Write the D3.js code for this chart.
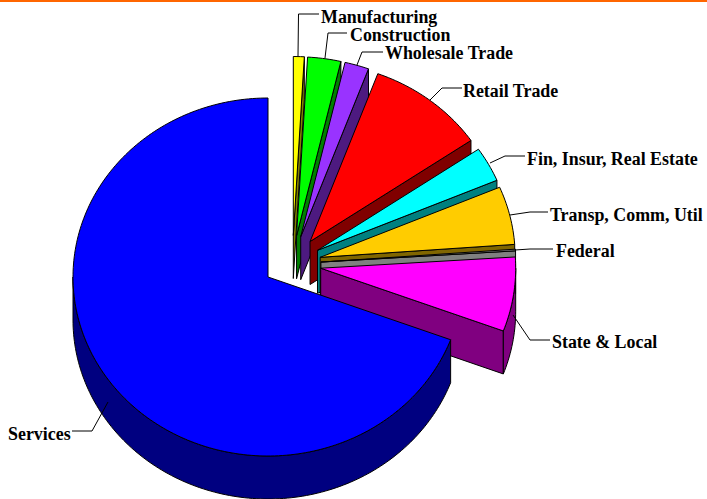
<!DOCTYPE html>
<html>
<head>
<meta charset="utf-8">
<script src="https://cdnjs.cloudflare.com/ajax/libs/d3/7.8.5/d3.min.js"></script>
<style>
    html, body { margin: 0; padding: 0; background: #fff; overflow: hidden; }
    svg { display: block; }
    text { font-family: "Liberation Serif", serif; font-weight: bold; font-size: 17.9px; fill: #000; }
</style>
</head>
<body>
<script>
//slices run clockwise from 12 o'clock, services last so it paints over the rest
var categories = ["Manufacturing", "Construction", "Wholesale Trade", "Retail Trade", "Fin, Insur, Real Estate", "Transp, Comm, Util", "Federal", "State & Local", "Services"];
var shares = [0.9, 2.75, 2.0, 9.8, 3.15, 5.25, 0.15, 6.7, 69.3];
var topColors = ["#ffff00", "#00ff00", "#9933ff", "#ff0000", "#00ffff", "#ffcc00", "#808080", "#ff00ff", "#0000ff"];
var sideColors = ["#808000", "#008000", "#4d1a80", "#800000", "#008080", "#806600", "#808080", "#800080", "#000080"];

//label position and leader elbow/end for each slice: [textX, baselineY, elbowX, elbowY, endX, endY, startX, startY]
var leaders = [
    [321, 23, 298.5, 14, 319, 14, 298, 56],
    [350, 41, 328, 33, 347, 33, 325, 58],
    [385, 59, 362, 52, 383, 52, 357, 65],
    [463, 97, 442, 88, 462, 88, 430, 100],
    [527, 165, 505, 156, 525, 156, 490, 163],
    [550, 221, 530, 212, 548, 212, 510, 215],
    [556, 257, 530, 249, 553, 249, 515, 250],
    [552, 348, 530, 340, 550, 340, 513, 315],
    [8, 440, 92, 431, 72, 431, 108, 402]
];

var width = 707,
    height = 499;

var cx = 268, cy = 277,   //centre of the unexploded pie
    rx = 195, ry = 179,   //tilted top face
    depth = 43;

var svg = d3.select("body")
    .append("svg")
    .attr("width", width)
    .attr("height", height);

//orange rule along the top
svg.append("rect")
    .attr("width", width)
    .attr("height", 2)
    .attr("fill", "#ff6600");

var pie = d3.pie().sort(null);
var arcs = pie(shares);

//centre of a slice: all but services are pulled out as a group, then along their own mid angle
function sliceCentre(d, i){
    if (i == categories.length - 1) return [cx, cy];
    var mid = (d.startAngle + d.endAngle) / 2;
    return [cx + 24.5 + 28.5 * Math.sin(mid), cy - 13 - 28.5 * Math.cos(mid)];
}

function rimPoints(c, a0, a1, dy){
    var n = Math.max(2, Math.ceil((a1 - a0) / 0.02));
    return d3.range(n + 1).map(function(k){
        var a = a0 + (a1 - a0) * k / n;
        return [c[0] + rx * Math.sin(a), c[1] - ry * Math.cos(a) + dy];
    });
}

var line = d3.line();

var slices = svg.selectAll("g.slice")
    .data(arcs)
    .enter()
    .append("g")
    .attr("class", "slice")
    .attr("stroke", "#000")
    .attr("stroke-width", 1)
    .attr("stroke-linejoin", "round");

slices.each(function(d, i){
    var g = d3.select(this),
        c = sliceCentre(d, i);

    //wall on the closing edge, not visible for services
    if (i < categories.length - 1){
        var e = [c[0] + rx * Math.sin(d.endAngle), c[1] - ry * Math.cos(d.endAngle)];
        g.append("path")
            .attr("d", line([c, e, [e[0], e[1] + depth], [c[0], c[1] + depth]]) + "Z")
            .attr("fill", sideColors[i]);
    }

    //outer rim only where it faces the viewer
    var a0 = Math.max(d.startAngle, Math.PI / 2),
        a1 = Math.min(d.endAngle, Math.PI * 1.5);
    if (a1 > a0){
        var upper = rimPoints(c, a0, a1, 0),
            lower = rimPoints(c, a0, a1, depth).reverse();
        g.append("path")
            .attr("d", line(upper.concat(lower)) + "Z")
            .attr("fill", sideColors[i]);
    }

    //top face
    g.append("path")
        .attr("d", line([c].concat(rimPoints(c, d.startAngle, d.endAngle, 0))) + "Z")
        .attr("fill", topColors[i]);
});

//leader lines and labels
leaders.forEach(function(l, i){
    svg.append("path")
        .attr("d", line([[l[6], l[7]], [l[2], l[3]], [l[4], l[5]]]))
        .attr("fill", "none")
        .attr("stroke", "#000")
        .attr("stroke-width", 1);
    svg.append("text")
        .attr("x", l[0])
        .attr("y", l[1])
        .text(categories[i]);
});
</script>
</body>
</html>
